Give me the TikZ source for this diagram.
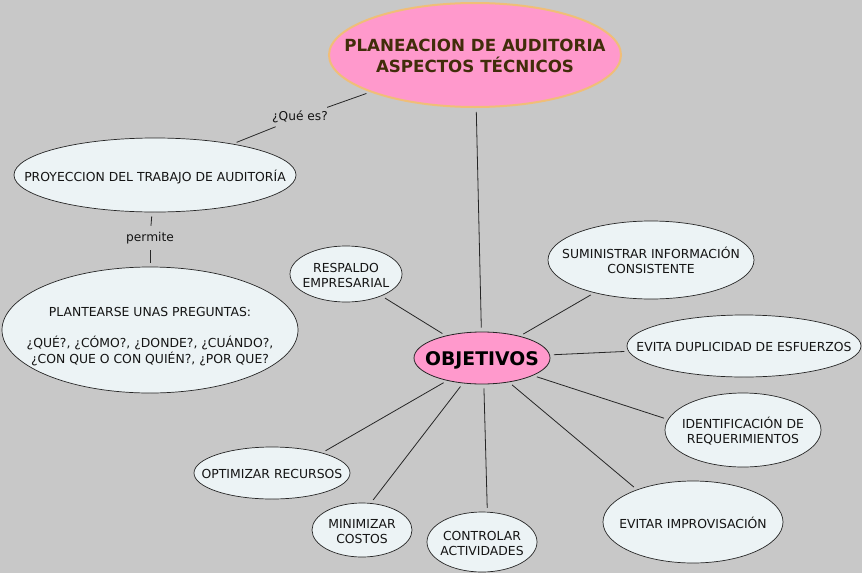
\documentclass[tikz,border=0pt]{standalone}
\usepackage{fontspec}
\setmainfont{DejaVu Sans}
\usetikzlibrary{shapes.geometric}
\definecolor{bg}{RGB}{200,200,200}
\definecolor{nfill}{RGB}{236,243,245}
\definecolor{pinkf}{RGB}{255,153,204}
\definecolor{topborder}{RGB}{240,190,120}
\definecolor{titletext}{RGB}{65,45,10}
% text in a zero-size box so that the ellipse keeps its given size
\newcommand{\zb}[2][0pt]{\makebox[0pt]{\raisebox{\dimexpr-0.36em-1.2pt-#1\relax}[0pt][0pt]{\begin{tabular}{@{}c@{}}#2\end{tabular}}}}
\begin{document}
\begin{tikzpicture}[x=1pt,y=-1pt,
  bub/.style={ellipse, draw=black!85, line width=0.7pt, fill=nfill, inner sep=0pt,
    font=\fontsize{12.4}{15}\selectfont, text=black!92},
  lbl/.style={inner sep=2pt, font=\fontsize{12.2}{14}\selectfont, text=black!92},
  conn/.style={draw=black!85, line width=0.8pt, shorten <=4pt, shorten >=4pt}]
\fill[bg] (0,0) rectangle (862,573);
\useasboundingbox (0,0) rectangle (862,573);

\node[ellipse, draw=topborder, line width=2pt, fill=pinkf, inner sep=0pt, minimum width=292, minimum height=104,
  text=titletext, font=\fontsize{16.7}{19}\selectfont\bfseries] (top) at (475,55)
  {\zb{PLANEACION DE AUDITORIA\\ASPECTOS TÉCNICOS}};

\node[bub, minimum width=282, minimum height=74] (proy) at (155,175) {\zb{PROYECCION DEL TRABAJO DE AUDITORÍA}};
\node[bub, minimum width=296, minimum height=126] (plant) at (150,330)
  {\zb[4pt]{PLANTEARSE UNAS PREGUNTAS:\\ \\¿QUÉ?, ¿CÓMO?, ¿DONDE?, ¿CUÁNDO?,\\ ¿CON QUE O CON QUIÉN?, ¿POR QUE?}};

\node[lbl] (q) at (300,117) {¿Qué es?};
\node[lbl] (perm) at (150,238) {permite};

\node[ellipse, draw=black!85, line width=0.8pt, fill=pinkf, inner sep=0pt, minimum width=136, minimum height=52,
  font=\fontsize{18.8}{20}\selectfont\bfseries, text=black] (obj) at (482,358) {\zb{OBJETIVOS}};

\node[bub, minimum width=112, minimum height=56] (resp) at (346,274) {\zb{RESPALDO\\EMPRESARIAL}};
\node[bub, minimum width=206, minimum height=78] (sum) at (651,260) {\zb{SUMINISTRAR INFORMACIÓN\\CONSISTENTE}};
\node[bub, minimum width=234, minimum height=62] (evd) at (744,346) {\zb{EVITA DUPLICIDAD DE ESFUERZOS}};
\node[bub, minimum width=156, minimum height=74] (ide) at (743,430) {\zb{IDENTIFICACIÓN DE\\REQUERIMIENTOS}};
\node[bub, minimum width=180, minimum height=82] (evi) at (693,522) {\zb{EVITAR IMPROVISACIÓN}};
\node[bub, minimum width=156, minimum height=52] (opt) at (272,473) {\zb{OPTIMIZAR RECURSOS}};
\node[bub, minimum width=100, minimum height=54] (min) at (362,530) {\zb{MINIMIZAR\\COSTOS}};
\node[bub, minimum width=110, minimum height=60] (con) at (482,542) {\zb{CONTROLAR\\ACTIVIDADES}};

\draw[conn] (top) -- (q);
\draw[conn] (q) -- (proy);
\draw[conn] (proy) -- (perm);
\draw[conn] (perm) -- (plant);
\draw[conn] (top) -- (obj);
\draw[conn] (obj) -- (resp);
\draw[conn] (obj) -- (sum);
\draw[conn] (obj) -- (evd);
\draw[conn] (obj.-19) -- (ide.172);
\draw[conn] (obj.-42) -- (evi.150);
\draw[conn] (obj.-86) -- (con.80);
\draw[conn] (obj.-127) -- (min.72);
\draw[conn] (obj.-147) -- (opt.22);
\end{tikzpicture}
\end{document}
